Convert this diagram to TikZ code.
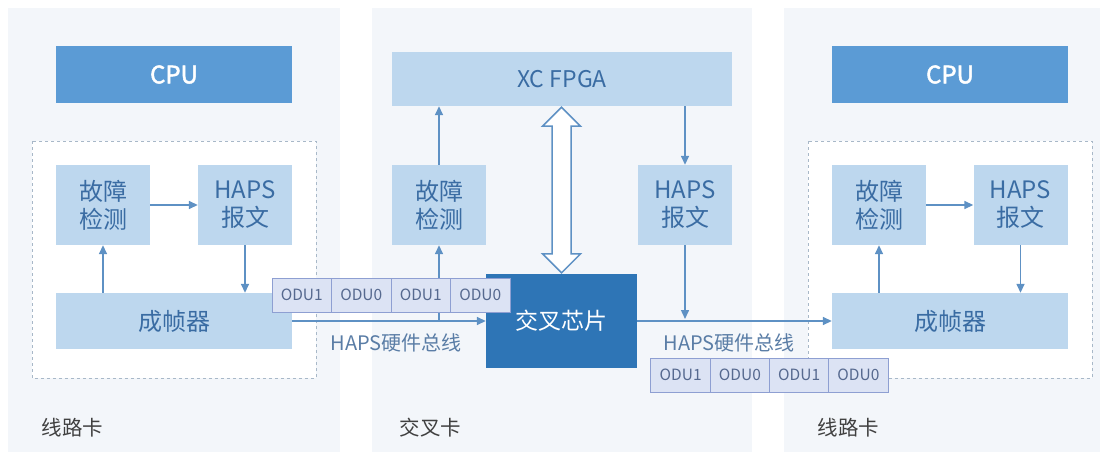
\documentclass[tikz,border=0pt]{standalone}
\usepackage{fontspec}
\setmainfont{Noto Sans CJK SC}[AutoFakeBold=2]
\usetikzlibrary{arrows.meta,calc}

\definecolor{panelbg}{HTML}{F3F6FA}
\definecolor{boxfill}{HTML}{BDD7EE}
\definecolor{boxtext}{HTML}{3A6CA3}
\definecolor{cpufill}{HTML}{5B9BD5}
\definecolor{chipfill}{HTML}{2E75B6}
\definecolor{arrowcol}{HTML}{5E91C4}
\definecolor{dashcol}{HTML}{A8B8C8}
\definecolor{odufill}{HTML}{DCE3F4}
\definecolor{oduline}{HTML}{8E9FD2}
\definecolor{odutext}{HTML}{56698F}
\definecolor{labeltext}{HTML}{404040}
\definecolor{bustext}{HTML}{5A7DA6}

\begin{document}
\begin{tikzpicture}[x=1pt,y=-1pt,
    box/.style={fill=boxfill, text=boxtext, align=center, inner sep=0pt,
        font=\fontsize{24}{28}\selectfont},
    smallbox/.style={box, minimum width=94pt, minimum height=80pt},
    widebox/.style={box, minimum width=236pt, minimum height=56pt},
    cpubox/.style={fill=cpufill, text=white, inner sep=0pt,
        minimum width=236pt, minimum height=57pt,
        font=\fontsize{24}{28}\selectfont\bfseries},
    chipbox/.style={fill=chipfill, text=white, inner sep=0pt,
        minimum width=151pt, minimum height=94pt,
        font=\fontsize{23}{26}\selectfont},
    odu/.style={draw=oduline, fill=odufill, text=odutext, line width=1pt,
        inner sep=0pt, minimum width=59.5pt, minimum height=34pt,
        font=\fontsize{15.5}{18}\selectfont},
    arr/.style={draw=arrowcol, line width=1.5pt,
        -{Triangle[length=9pt,width=8pt]}},
    cardlabel/.style={text=labeltext, anchor=west,
        font=\fontsize{20.5}{24}\selectfont},
    buslabel/.style={text=bustext, font=\fontsize{20}{24}\selectfont},
    dblarrow/.style={draw=arrowcol, fill=white, line width=1.5pt,
        line join=miter}]
    \useasboundingbox (0,0) rectangle (1107,452);

    % three cards
    \fill[panelbg] (8,8) rectangle (340,452);
    \fill[panelbg] (372,8) rectangle (752,452);
    \fill[panelbg] (784,8) rectangle (1100,452);
    \draw[dashcol, dashed, line width=1pt, fill=white] (32,141) rectangle (316,378);
    \draw[dashcol, dashed, line width=1pt, fill=white] (808,141) rectangle (1092,378);

    % left line card
    \node[cpubox] (cpuL) at (174,74.5) {CPU};
    \node[smallbox] (fdL) at (103,205) {故障\\检测};
    \node[smallbox] (hpL) at (245,205) {HAPS\\报文};
    \node[widebox] (frL) at (174,321) {成帧器};
    \node[cardlabel] (cardL) at (38,428) {线路卡};

    % cross card
    \node[box, minimum width=340pt, minimum height=54pt,
        font=\fontsize{23}{26}\selectfont] (fpga) at (562,79) {XC FPGA};
    \node[smallbox] (fdC) at (439,205) {故障\\检测};
    \node[smallbox] (hpC) at (685,205) {HAPS\\报文};
    \node[chipbox] (chip) at (561.5,321) {交叉芯片};
    \node[cardlabel] (cardC) at (396,428) {交叉卡};
    \node[buslabel] (busL) at (396,343) {HAPS硬件总线};
    \node[buslabel] (busR) at (729,343) {HAPS硬件总线};

    % right line card
    \node[cpubox] (cpuR) at (950,74.5) {CPU};
    \node[smallbox] (fdR) at (879,205) {故障\\检测};
    \node[smallbox] (hpR) at (1020.5,205) {HAPS\\报文};
    \node[widebox] (frR) at (950,321) {成帧器};
    \node[cardlabel] (cardR) at (814,428) {线路卡};

    % arrows
    \draw[arr] (fdL) -- (hpL);
    \draw[arr] (hpL.south) -- (hpL.south |- frL.north);
    \draw[arr] (fdL.south |- frL.north) -- (fdL.south);
    \draw[arr] (fdR) -- (hpR);
    \draw[arr] (hpR.south) -- (hpR.south |- frR.north);
    \draw[arr] (fdR.south |- frR.north) -- (fdR.south);
    \draw[arr] (fdC.north) -- (fdC.north |- fpga.south);
    \draw[arr] (hpC.north |- fpga.south) -- (hpC.north);
    \draw[arr] (fdC.south |- frL.east) -- (fdC.south);
    \draw[arr] (hpC.south) -- ($(hpC.south |- chip.east)+(0,-2)$);
    \draw[arr] (frL.east) -- (chip.west);
    \draw[arr] (chip.east) -- (frR.west);

    % wide two-way link between FPGA and chip
    \coordinate (xtop) at ($(chip.north |- fpga.south)+(0,1)$);
    \coordinate (xbot) at ($(chip.north)+(0,-1)$);
    \draw[dblarrow] (xtop) -- ($(xtop)+(19,19)$) -- ($(xtop)+(9.5,19)$)
        -- ($(xbot)+(9.5,-19)$) -- ($(xbot)+(19,-19)$) -- (xbot)
        -- ($(xbot)+(-19,-19)$) -- ($(xbot)+(-9.5,-19)$)
        -- ($(xtop)+(-9.5,19)$) -- ($(xtop)+(-19,19)$) -- cycle;

    % ODU frames on the bus
    \foreach \t [count=\i] in {ODU1,ODU0,ODU1,ODU0}
        \node[odu] (oduL\i) at ({272+59.5*(\i-0.5)},295) {\t};
    \foreach \t [count=\i] in {ODU1,ODU0,ODU1,ODU0}
        \node[odu] (oduR\i) at ({651+59.25*(\i-0.5)},375) {\t};
\end{tikzpicture}
\end{document}
